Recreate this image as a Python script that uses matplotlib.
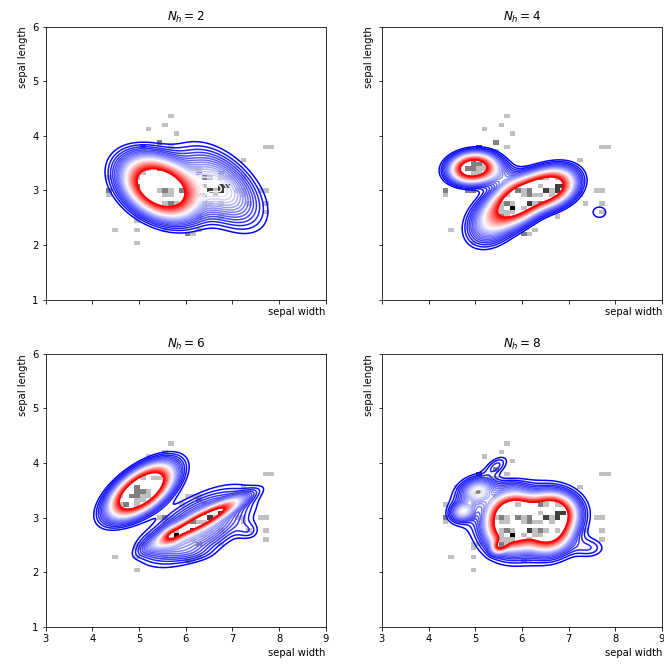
"""
Iris sepal data with model density contours for several hidden-unit counts.
"""
import numpy as np
import matplotlib
matplotlib.use('Agg')
import matplotlib.pyplot as plt

sepal_length = [
  5.1, 4.9, 4.7, 4.6, 5.0, 5.4, 4.6, 5.0, 4.4, 4.9, 5.4, 4.8, 4.8, 4.3, 5.8, 5.7, 5.4, 5.1, 5.7, 5.1,
  5.4, 5.1, 4.6, 5.1, 4.8, 5.0, 5.0, 5.2, 5.2, 4.7, 4.8, 5.4, 5.2, 5.5, 4.9, 5.0, 5.5, 4.9, 4.4, 5.1,
  5.0, 4.5, 4.4, 5.0, 5.1, 4.8, 5.1, 4.6, 5.3, 5.0,
  7.0, 6.4, 6.9, 5.5, 6.5, 5.7, 6.3, 4.9, 6.6, 5.2, 5.0, 5.9, 6.0, 6.1, 5.6, 6.7, 5.6, 5.8, 6.2, 5.6,
  5.9, 6.1, 6.3, 6.1, 6.4, 6.6, 6.8, 6.7, 6.0, 5.7, 5.5, 5.5, 5.8, 6.0, 5.4, 6.0, 6.7, 6.3, 5.6, 5.5,
  5.5, 6.1, 5.8, 5.0, 5.6, 5.7, 5.7, 6.2, 5.1, 5.7,
  6.3, 5.8, 7.1, 6.3, 6.5, 7.6, 4.9, 7.3, 6.7, 7.2, 6.5, 6.4, 6.8, 5.7, 5.8, 6.4, 6.5, 7.7, 7.7, 6.0,
  6.9, 5.6, 7.7, 6.3, 6.7, 7.2, 6.2, 6.1, 6.4, 7.2, 7.4, 7.9, 6.4, 6.3, 6.1, 7.7, 6.3, 6.4, 6.0, 6.9,
  6.7, 6.9, 5.8, 6.8, 6.7, 6.7, 6.3, 6.5, 6.2, 5.9]
sepal_width = [
  3.5, 3.0, 3.2, 3.1, 3.6, 3.9, 3.4, 3.4, 2.9, 3.1, 3.7, 3.4, 3.0, 3.0, 4.0, 4.4, 3.9, 3.5, 3.8, 3.8,
  3.4, 3.7, 3.6, 3.3, 3.4, 3.0, 3.4, 3.5, 3.4, 3.2, 3.1, 3.4, 4.1, 4.2, 3.1, 3.2, 3.5, 3.6, 3.0, 3.4,
  3.5, 2.3, 3.2, 3.5, 3.8, 3.0, 3.8, 3.2, 3.7, 3.3,
  3.2, 3.2, 3.1, 2.3, 2.8, 2.8, 3.3, 2.4, 2.9, 2.7, 2.0, 3.0, 2.2, 2.9, 2.9, 3.1, 3.0, 2.7, 2.2, 2.5,
  3.2, 2.8, 2.5, 2.8, 2.9, 3.0, 2.8, 3.0, 2.9, 2.6, 2.4, 2.4, 2.7, 2.7, 3.0, 3.4, 3.1, 2.3, 3.0, 2.5,
  2.6, 3.0, 2.6, 2.3, 2.7, 3.0, 2.9, 2.9, 2.5, 2.8,
  3.3, 2.7, 3.0, 2.9, 3.0, 3.0, 2.5, 2.9, 2.5, 3.6, 3.2, 2.7, 3.0, 2.5, 2.8, 3.2, 3.0, 3.8, 2.6, 2.2,
  3.2, 2.8, 2.8, 2.7, 3.3, 3.2, 2.8, 3.0, 2.8, 3.0, 2.8, 3.8, 2.8, 2.8, 2.6, 3.0, 3.4, 3.1, 3.0, 3.1,
  3.1, 3.1, 2.7, 3.2, 3.3, 3.0, 2.5, 3.0, 3.4, 3.0]

# model components: (x, y, sd major, sd minor, angle deg, peak height)
comps_nh2 = [(5.45, 3.05, 0.50, 0.30, -22, 1.7),
             (6.75, 3.05, 0.60, 0.33, -35, 0.5)]
comps_nh4 = [(4.95, 3.41, 0.30, 0.16, 5, 1.5),
             (5.9, 2.8, 0.34, 0.22, 25, 1.45),
             (6.6, 3.05, 0.34, 0.20, 15, 1.4),
             (6.25, 2.95, 0.25, 0.15, 20, 0.4),
             (5.35, 2.45, 0.35, 0.25, 30, 0.5),
             (5.5, 3.3, 0.25, 0.15, 0, 0.2),
             (7.66, 2.6, 0.20, 0.14, 0, 0.1)]
comps_nh6 = [(5.05, 3.49, 0.45, 0.20, 30, 2.0),
             (6.33, 2.95, 0.55, 0.075, 24, 1.1),
             (6.3, 2.85, 0.72, 0.30, 25, 0.45),
             (5.7, 2.68, 0.15, 0.10, 20, 0.3),
             (7.35, 2.75, 0.18, 0.12, 0, 0.1),
             (6.1, 2.35, 0.35, 0.10, 0, 0.06),
             (5.4, 2.5, 0.30, 0.15, 10, 0.15)]
comps_nh8 = [(5.75, 2.8, 0.30, 0.24, 0, 1.3),
             (6.65, 3.1, 0.30, 0.20, 0, 1.3),
             (5.85, 3.1, 0.30, 0.20, 0, 1.3),
             (6.55, 2.78, 0.30, 0.24, 0, 1.3),
             (5.55, 2.5, 0.12, 0.07, 30, 0.7),
             (5.06, 3.48, 0.22, 0.14, 10, 0.45),
             (4.74, 3.11, 0.16, 0.10, 10, 0.4),
             (4.85, 3.3, 0.38, 0.28, 35, 0.12),
             (5.45, 3.95, 0.20, 0.10, 30, 0.14),
             (5.75, 3.55, 0.25, 0.10, 0, 0.1),
             (7.45, 2.44, 0.25, 0.13, 0, 0.12),
             (6.15, 2.9, 0.75, 0.50, 10, 0.2)]

hidden = [2, 4, 6, 8]
panels = [comps_nh2, comps_nh4, comps_nh6, comps_nh8]


def density(X, Y, comps):
  Z = np.zeros_like(X)
  for mx, my, s1, s2, ang, h in comps:
    t = np.deg2rad(ang)
    dx = X - mx
    dy = Y - my
    u = dx * np.cos(t) + dy * np.sin(t)
    v = -dx * np.sin(t) + dy * np.cos(t)
    Z += h * np.exp(-0.5 * ((u / s1) ** 2 + (v / s2) ** 2))
  return Z


xg = np.linspace(3, 9, 400)
yg = np.linspace(1, 6, 400)
X, Y = np.meshgrid(xg, yg)
levels = np.linspace(0.08, 1.0, 30)

fig, axes = plt.subplots(2, 2, sharex=True, sharey=True, figsize=(664 / 72, 668 / 72), dpi=72)
fig.subplots_adjust(left=0.0688, right=0.997, bottom=0.0618, top=0.96, wspace=0.2, hspace=0.199)

for ax, nh, comps in zip(axes.flat, hidden, panels):
  ax.hist2d(sepal_length, sepal_width, bins=30, cmap='gray_r')
  ax.contour(X, Y, density(X, Y, comps), levels=levels, cmap='bwr', linewidths=1.5)
  ax.set_xlim(3, 9)
  ax.set_ylim(1, 6)
  ax.set_title('$N_h = %d$' % nh)
  ax.set_xlabel('sepal width', loc='right')
  ax.set_ylabel('sepal length', loc='top')
  ax.xaxis.set_tick_params(labelbottom=ax in axes[1])

fig.savefig('out.png', dpi=72)
